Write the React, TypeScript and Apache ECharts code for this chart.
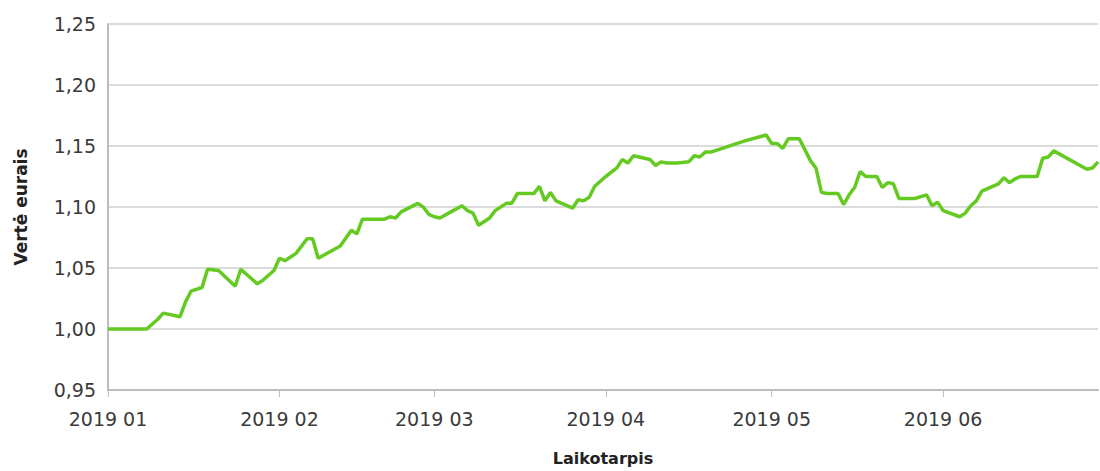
import React, { useEffect, useRef } from "react";
import * as echarts from "echarts";

const dates: string[] = [
  "2019-01-01", "2019-01-08", "2019-01-10", "2019-01-11", "2019-01-14", "2019-01-15",
  "2019-01-16", "2019-01-18", "2019-01-19", "2019-01-21", "2019-01-24", "2019-01-25",
  "2019-01-28", "2019-01-29", "2019-01-31", "2019-02-01", "2019-02-02", "2019-02-04",
  "2019-02-06", "2019-02-07", "2019-02-08", "2019-02-12", "2019-02-14", "2019-02-15",
  "2019-02-16", "2019-02-20", "2019-02-21", "2019-02-22", "2019-02-23", "2019-02-26",
  "2019-02-27", "2019-02-28", "2019-03-01", "2019-03-02", "2019-03-04", "2019-03-06",
  "2019-03-07", "2019-03-08", "2019-03-09", "2019-03-11", "2019-03-12", "2019-03-14",
  "2019-03-15", "2019-03-16", "2019-03-19", "2019-03-20", "2019-03-21", "2019-03-22",
  "2019-03-23", "2019-03-26", "2019-03-27", "2019-03-28", "2019-03-29", "2019-03-30",
  "2019-04-01", "2019-04-03", "2019-04-04", "2019-04-05", "2019-04-06", "2019-04-09",
  "2019-04-10", "2019-04-11", "2019-04-12", "2019-04-14", "2019-04-16", "2019-04-17",
  "2019-04-18", "2019-04-19", "2019-04-20", "2019-04-26", "2019-04-30", "2019-05-01",
  "2019-05-02", "2019-05-03", "2019-05-04", "2019-05-06", "2019-05-08", "2019-05-09",
  "2019-05-10", "2019-05-11", "2019-05-13", "2019-05-14", "2019-05-15", "2019-05-16",
  "2019-05-17", "2019-05-18", "2019-05-20", "2019-05-21", "2019-05-22", "2019-05-23",
  "2019-05-24", "2019-05-27", "2019-05-29", "2019-05-30", "2019-05-31", "2019-06-01",
  "2019-06-04", "2019-06-05", "2019-06-06", "2019-06-07", "2019-06-08", "2019-06-11",
  "2019-06-12", "2019-06-13", "2019-06-14", "2019-06-15", "2019-06-18", "2019-06-19",
  "2019-06-20", "2019-06-21", "2019-06-27", "2019-06-28", "2019-06-29",
];

const values: number[] = [
  1.0, 1.0, 1.008, 1.013, 1.01, 1.022,
  1.031, 1.034, 1.049, 1.048, 1.035, 1.049,
  1.037, 1.04, 1.048, 1.058, 1.056, 1.062,
  1.074, 1.074, 1.058, 1.068, 1.081, 1.078,
  1.09, 1.09, 1.092, 1.091, 1.096, 1.103,
  1.1, 1.094, 1.092, 1.091, 1.096, 1.101,
  1.097, 1.095, 1.085, 1.091, 1.097, 1.103,
  1.103, 1.111, 1.111, 1.117, 1.105, 1.112,
  1.105, 1.099, 1.106, 1.105, 1.108, 1.117,
  1.125, 1.132, 1.139, 1.136, 1.142, 1.139,
  1.134, 1.137, 1.136, 1.136, 1.137, 1.142,
  1.141, 1.145, 1.145, 1.154, 1.159, 1.152,
  1.152, 1.148, 1.156, 1.156, 1.138, 1.132,
  1.112, 1.111, 1.111, 1.102, 1.11, 1.116,
  1.129, 1.125, 1.125, 1.116, 1.12, 1.119,
  1.107, 1.107, 1.11, 1.101, 1.104, 1.097,
  1.092, 1.095, 1.101, 1.105, 1.113, 1.119,
  1.124, 1.12, 1.123, 1.125, 1.125, 1.14,
  1.141, 1.146, 1.131, 1.132, 1.137,
];

const monthTicks: string[] = [
  "2019-01-01", "2019-02-01", "2019-03-01", "2019-04-01", "2019-05-01", "2019-06-01",
];

const xName = "Laikotarpis";
const yName = "Vertė eurais";

function parseLocal(s: string): number {
  const [y, m, d] = s.split("-").map(Number);
  return new Date(y, m - 1, d).getTime();
}

export default function App() {
  const ref = useRef<HTMLDivElement>(null);

  useEffect(() => {
    if (!ref.current) return;
    const chart = echarts.init(ref.current, null, { renderer: "svg" });
    const tickVals = monthTicks.map(parseLocal);
    const font = "DejaVu Sans";
    chart.setOption({
      animation: false,
      backgroundColor: "#ffffff",
      grid: { left: 108, right: 2, top: 24, bottom: 74, containLabel: false },
      xAxis: {
        type: "value",
        min: parseLocal("2019-01-01"),
        max: parseLocal("2019-06-29"),
        name: xName,
        nameLocation: "middle",
        nameGap: 60,
        nameTextStyle: { fontFamily: font, fontSize: 16, fontWeight: "bold", color: "#222" },
        axisLine: { show: true, lineStyle: { color: "#bdbdbd", width: 2 } },
        axisTick: {
          show: true,
          length: 7,
          customValues: tickVals,
          lineStyle: { color: "#bdbdbd", width: 1 },
        },
        axisLabel: {
          customValues: tickVals,
          fontFamily: font,
          fontSize: 19,
          color: "#3a3a3a",
          margin: 19,
          formatter: (v: number) => {
            const d = new Date(v);
            const m = d.getMonth() + 1;
            return d.getFullYear() + " " + (m < 10 ? "0" + m : "" + m);
          },
        },
        splitLine: { show: false },
      },
      yAxis: {
        type: "value",
        min: 0.95,
        max: 1.25,
        interval: 0.05,
        name: yName,
        nameLocation: "middle",
        nameGap: 79,
        nameRotate: 90,
        nameTextStyle: { fontFamily: font, fontSize: 17, fontWeight: "bold", color: "#222" },
        axisLine: { show: true, lineStyle: { color: "#bdbdbd", width: 2 } },
        axisTick: { show: false },
        axisLabel: {
          fontFamily: font,
          fontSize: 19,
          color: "#3a3a3a",
          margin: 12,
          formatter: (v: number) => v.toFixed(2).replace(".", ","),
        },
        splitLine: { show: true, lineStyle: { color: "#cfcfcf", width: 1.5 } },
      },
      series: [
        {
          type: "line",
          data: dates.map((d, i) => [parseLocal(d), values[i]]),
          showSymbol: false,
          symbol: "none",
          lineStyle: { color: "#64ca22", width: 3.5 },
          itemStyle: { color: "#64ca22" },
        },
      ],
    });
    return () => chart.dispose();
  }, []);

  return (
    <div
      ref={ref}
      style={{ position: "fixed", left: 0, top: 0, width: 1100, height: 471, background: "#fff" }}
    />
  );
}
